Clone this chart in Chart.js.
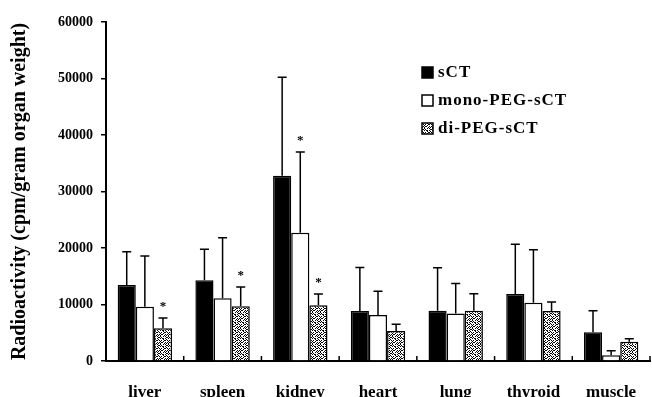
<!DOCTYPE html>
<html>
<head>
<meta charset="utf-8">
<script src="https://cdn.jsdelivr.net/npm/chart.js@4.4.1/dist/chart.umd.min.js"></script>
<style>
  html, body { margin: 0; padding: 0; background: #fff; }
  #wrap { width: 652px; height: 397px; }
</style>
</head>
<body>
<div id="wrap"><canvas id="biodistChart"></canvas></div>
<script>
// organ categories and mean radioactivity (cpm / gram organ weight)
const organs = ['liver', 'spleen', 'kidney', 'heart', 'lung', 'thyroid', 'muscle'];
const sCT = [13450, 14300, 32800, 8850, 8900, 11860, 5080];
const monoPEG = [9600, 11100, 22700, 8150, 8400, 10300, 1000];
const diPEG = [5800, 9700, 9850, 5300, 8900, 8850, 3400];

// standard deviations (upper error bars)
const sCTSd = [5900, 5500, 17400, 7700, 7600, 8800, 3800];
const monoPEGSd = [9000, 10700, 14300, 4200, 5300, 9400, 800];
const diPEGSd = [1800, 3400, 2000, 1200, 3000, 1600, 550];

// significance marks: [dataset index, organ index]
const starMarks = [[2, 0], [2, 1], [1, 2], [2, 2]];

const yTicks = [0, 10000, 20000, 30000, 40000, 50000, 60000];

const serif = "'Liberation Serif', 'Times New Roman', serif";

// speckled fill for the di-PEG-sCT bars
function speckle() {
    const mask = [
        '#..#.#..',
        '.#....##',
        '#.##.#..',
        '...#..#.',
        '.#..##.#',
        '#..#....',
        '.##..#.#',
        '#...#.#.'
    ];
    const c = document.createElement('canvas');
    c.width = 8; c.height = 8;
    const g = c.getContext('2d');
    g.fillStyle = '#fff';
    g.fillRect(0, 0, 8, 8);
    g.fillStyle = '#000';
    mask.forEach((row, y) => {
        for (let x = 0; x < row.length; x++) {
            if (row[x] === '#') g.fillRect(x, y, 1, 1);
        }
    });
    return g.createPattern(c, 'repeat');
}

const errorBars = {
    id: 'errorBars',
    afterDatasetsDraw(chart) {
        const ctx = chart.ctx;
        const y = chart.scales.y;
        ctx.save();
        ctx.strokeStyle = '#000';
        ctx.lineWidth = 1.5;
        chart.data.datasets.forEach((ds, d) => {
            const meta = chart.getDatasetMeta(d);
            meta.data.forEach((bar, i) => {
                const top = y.getPixelForValue(ds.data[i] + ds.sd[i]);
                ctx.beginPath();
                ctx.moveTo(bar.x, bar.y);
                ctx.lineTo(bar.x, top);
                ctx.moveTo(bar.x - 4.5, top);
                ctx.lineTo(bar.x + 4.5, top);
                ctx.stroke();
            });
        });
        // significance stars
        ctx.fillStyle = '#000';
        ctx.font = 'bold 13px ' + serif;
        ctx.textAlign = 'center';
        ctx.textBaseline = 'middle';
        starMarks.forEach(([d, i]) => {
            const ds = chart.data.datasets[d];
            const bar = chart.getDatasetMeta(d).data[i];
            const top = y.getPixelForValue(ds.data[i] + ds.sd[i]);
            ctx.fillText('*', bar.x, top - 11);
        });
        // small category separator ticks on the x axis
        const x = chart.scales.x;
        const step = (x.right - x.left) / organs.length;
        ctx.lineWidth = 1.5;
        ctx.beginPath();
        for (let k = 1; k <= organs.length; k++) {
            const px = x.left + k * step;
            ctx.moveTo(px, x.top);
            ctx.lineTo(px, x.top - 5);
        }
        ctx.stroke();
        ctx.restore();
    }
};

const boxLegend = {
    id: 'boxLegend',
    afterDraw(chart) {
        const ctx = chart.ctx;
        ctx.save();
        ctx.font = 'bold 17px ' + serif;
        ctx.letterSpacing = '1px';
        ctx.textBaseline = 'middle';
        ctx.textAlign = 'left';
        chart.data.datasets.forEach((ds, d) => {
            const top = 67 + d * 28;
            ctx.fillStyle = ds.backgroundColor;
            ctx.fillRect(422, top, 11, 11);
            ctx.strokeStyle = '#000';
            ctx.lineWidth = 1.5;
            ctx.strokeRect(422, top, 11, 11);
            ctx.fillStyle = '#000';
            ctx.fillText(ds.label, 438, top + 6);
        });
        ctx.restore();
    }
};

document.addEventListener('DOMContentLoaded', function () {
    const ctx = document.getElementById('biodistChart').getContext('2d');
    new Chart(ctx, {
        type: 'bar',
        data: {
            labels: organs,
            datasets: [
                { label: 'sCT', data: sCT, sd: sCTSd, backgroundColor: '#000' },
                { label: 'mono-PEG-sCT', data: monoPEG, sd: monoPEGSd, backgroundColor: '#fff' },
                { label: 'di-PEG-sCT', data: diPEG, sd: diPEGSd, backgroundColor: speckle() }
            ].map(ds => Object.assign(ds, {
                borderColor: '#000',
                borderWidth: 1.5,
                categoryPercentage: 0.7,
                barPercentage: 1.0
            }))
        },
        options: {
            responsive: true,
            maintainAspectRatio: false,
            animation: false,
            devicePixelRatio: 1,
            layout: { padding: { top: 22, right: 2, left: 8, bottom: 0 } },
            plugins: {
                legend: { display: false },
                tooltip: { enabled: false }
            },
            scales: {
                x: {
                    grid: { display: false },
                    border: { display: true, color: '#000', width: 2 },
                    ticks: {
                        color: '#000',
                        font: { family: serif, size: 17, weight: 'bold' },
                        padding: 13,
                        maxRotation: 0
                    },
                    afterFit(scale) { scale.height = 36; }
                },
                y: {
                    min: 0,
                    max: 60000,
                    afterBuildTicks(scale) {
                        scale.ticks = yTicks.map(v => ({ value: v }));
                    },
                    grid: {
                        drawOnChartArea: false,
                        drawTicks: true,
                        tickLength: 5,
                        color: '#000',
                        lineWidth: 1.5
                    },
                    border: { display: true, color: '#000', width: 2 },
                    ticks: {
                        color: '#000',
                        font: { family: serif, size: 14, weight: 'bold' },
                        padding: 8,
                        callback: v => String(v)
                    },
                    title: {
                        display: true,
                        text: 'Radioactivity (cpm/gram organ weight)',
                        color: '#000',
                        font: { family: serif, size: 20, weight: 'bold' },
                        padding: 0
                    },
                    afterFit(scale) { scale.width = 98; }
                }
            }
        },
        plugins: [errorBars, boxLegend]
    });
});
</script>
</body>
</html>
